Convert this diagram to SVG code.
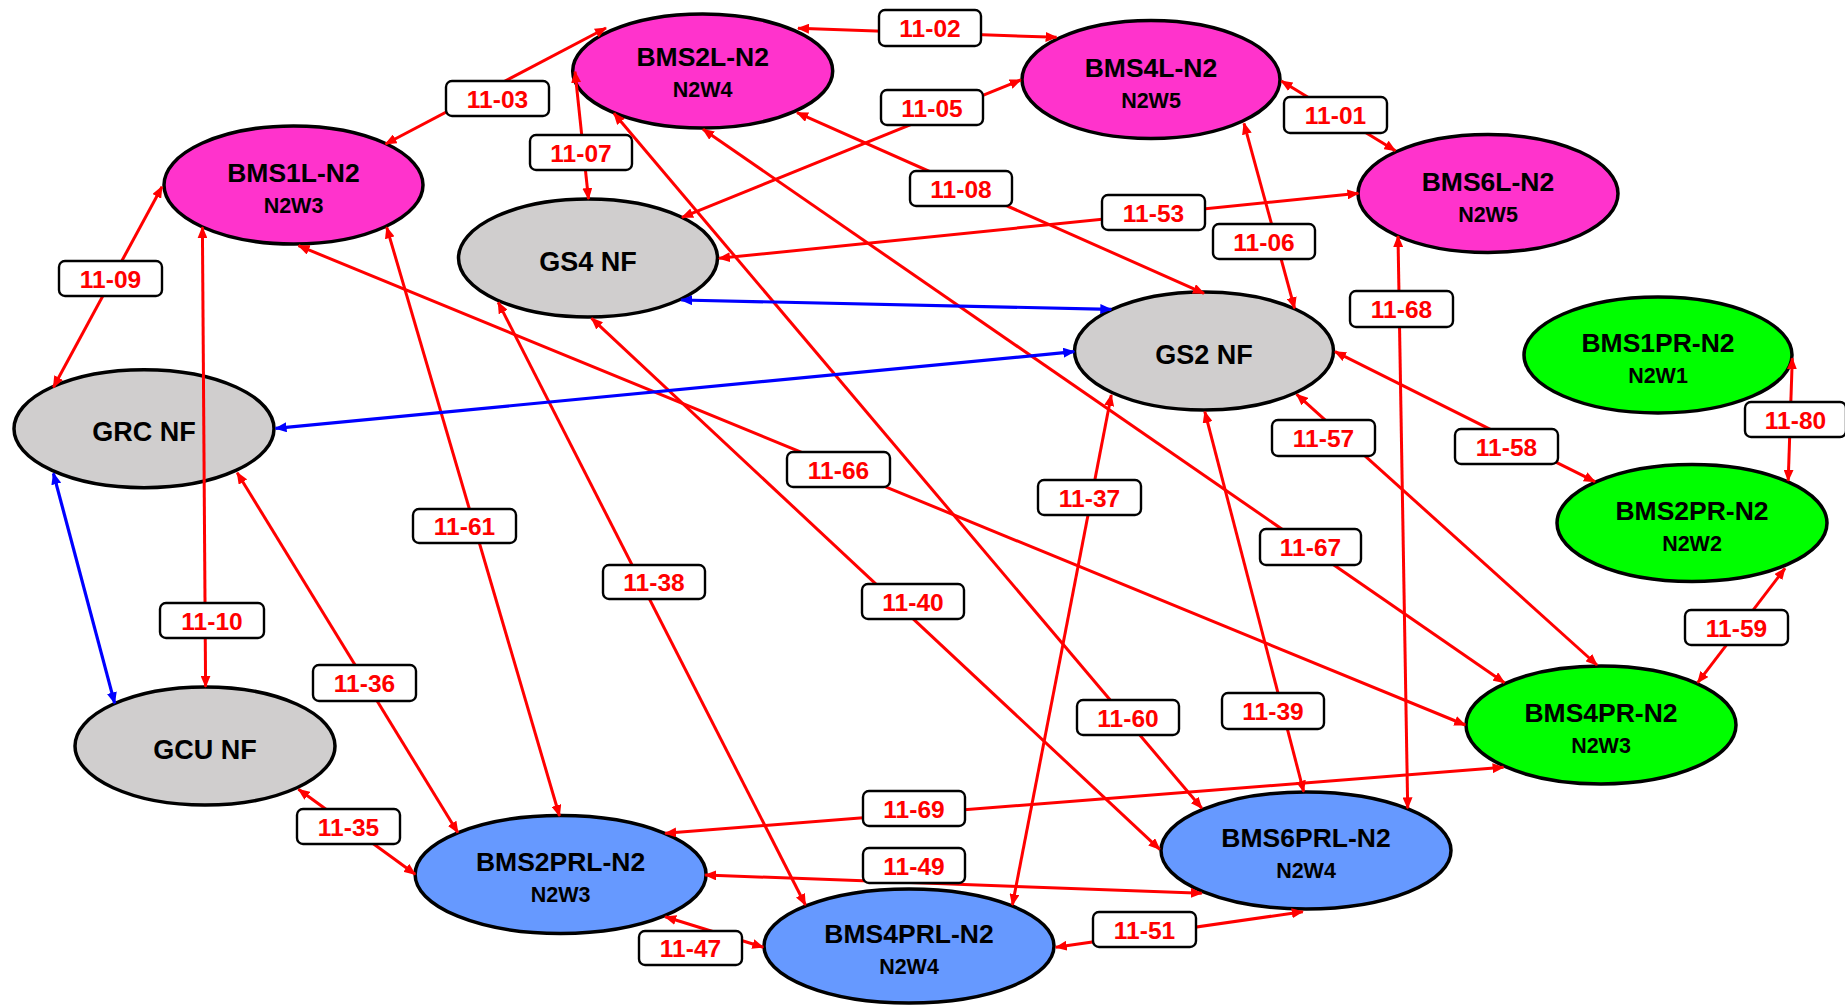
<svg xmlns="http://www.w3.org/2000/svg" width="1845" height="1005" viewBox="0 0 1845 1005">
<style>
.n{stroke:#000;stroke-width:3.5}
.mag{fill:#FF33CC}.gry{fill:#D0CECE}.grn{fill:#00FF00}.blu{fill:#6699FF}
.t1{font-family:"Liberation Sans",Arial,sans-serif;font-weight:bold;font-size:26.5px;fill:#000;text-anchor:middle}
.t2{font-family:"Liberation Sans",Arial,sans-serif;font-weight:bold;font-size:21.5px;fill:#000;text-anchor:middle}
.tn{font-family:"Liberation Sans",Arial,sans-serif;font-weight:bold;font-size:27px;fill:#000;text-anchor:middle}
.r{stroke:#FF0000;stroke-width:3;fill:none;marker-start:url(#ar);marker-end:url(#ar)}
.b{stroke:#0000FF;stroke-width:3.2;fill:none;marker-start:url(#ab);marker-end:url(#ab)}
.lb{fill:#fff;stroke:#000;stroke-width:2.4}
.lt{font-family:"Liberation Sans",Arial,sans-serif;font-weight:bold;font-size:24.5px;fill:#FF0000;text-anchor:middle}
</style>
<defs>
<marker id="ar" viewBox="0 0 12 10" refX="11" refY="5" markerWidth="12" markerHeight="10" markerUnits="userSpaceOnUse" orient="auto-start-reverse"><path d="M0,0 L12,5 L0,10 z" fill="#FF0000"/></marker>
<marker id="ab" viewBox="0 0 12 10" refX="11" refY="5" markerWidth="12" markerHeight="10" markerUnits="userSpaceOnUse" orient="auto-start-reverse"><path d="M0,0 L12,5 L0,10 z" fill="#0000FF"/></marker>
</defs>
<rect width="1845" height="1005" fill="#fff"/>
<g id="nodes">
<g id="BMS1L"><ellipse class="n mag" cx="293.5" cy="185" rx="129.5" ry="59"/><text class="t1" x="293.5" y="182">BMS1L-N2</text><text class="t2" x="293.5" y="213">N2W3</text></g>
<g id="BMS2L"><ellipse class="n mag" cx="702.7" cy="71" rx="130" ry="57"/><text class="t1" x="702.7" y="66">BMS2L-N2</text><text class="t2" x="702.7" y="97">N2W4</text></g>
<g id="BMS4L"><ellipse class="n mag" cx="1151" cy="79.5" rx="129" ry="59"/><text class="t1" x="1151" y="76.5">BMS4L-N2</text><text class="t2" x="1151" y="107.5">N2W5</text></g>
<g id="BMS6L"><ellipse class="n mag" cx="1488" cy="193.5" rx="130" ry="59"/><text class="t1" x="1488" y="190.5">BMS6L-N2</text><text class="t2" x="1488" y="221.5">N2W5</text></g>
<g id="GS4"><ellipse class="n gry" cx="588" cy="258" rx="129.5" ry="59"/><text class="tn" x="588" y="270.5">GS4 NF</text></g>
<g id="GS2"><ellipse class="n gry" cx="1204" cy="351" rx="129.5" ry="59"/><text class="tn" x="1204" y="363.5">GS2 NF</text></g>
<g id="GRC"><ellipse class="n gry" cx="144" cy="428.7" rx="130" ry="59"/><text class="tn" x="144" y="441">GRC NF</text></g>
<g id="GCU"><ellipse class="n gry" cx="205" cy="746" rx="130" ry="59"/><text class="tn" x="205" y="758.5">GCU NF</text></g>
<g id="BMS1PR"><ellipse class="n grn" cx="1658" cy="355" rx="134" ry="58"/><text class="t1" x="1658" y="352">BMS1PR-N2</text><text class="t2" x="1658" y="383">N2W1</text></g>
<g id="BMS2PR"><ellipse class="n grn" cx="1692" cy="523" rx="135" ry="58.5"/><text class="t1" x="1692" y="520">BMS2PR-N2</text><text class="t2" x="1692" y="551">N2W2</text></g>
<g id="BMS4PR"><ellipse class="n grn" cx="1601" cy="725" rx="135" ry="59"/><text class="t1" x="1601" y="722">BMS4PR-N2</text><text class="t2" x="1601" y="753">N2W3</text></g>
<g id="BMS2PRL"><ellipse class="n blu" cx="560.6" cy="874.5" rx="145.5" ry="59"/><text class="t1" x="560.6" y="870.5">BMS2PRL-N2</text><text class="t2" x="560.6" y="902">N2W3</text></g>
<g id="BMS4PRL"><ellipse class="n blu" cx="909" cy="946" rx="145" ry="57"/><text class="t1" x="909" y="943">BMS4PRL-N2</text><text class="t2" x="909" y="974">N2W4</text></g>
<g id="BMS6PRL"><ellipse class="n blu" cx="1306" cy="850.5" rx="145" ry="58.5"/><text class="t1" x="1306" y="847">BMS6PRL-N2</text><text class="t2" x="1306" y="878">N2W4</text></g>
</g>
<g id="connectors">
<line class="r" x1="385.5" y1="144" x2="606" y2="28"/>
<line class="r" x1="798" y1="28.3" x2="1056.6" y2="37.3"/>
<line class="r" x1="575" y1="71.7" x2="588.5" y2="199"/>
<line class="r" x1="1020.8" y1="80" x2="682" y2="217.3"/>
<line class="r" x1="797" y1="112.7" x2="1204" y2="293.3"/>
<line class="r" x1="719" y1="258.3" x2="1358.4" y2="193.3"/>
<line class="r" x1="1281.4" y1="81" x2="1395.4" y2="150.7"/>
<line class="r" x1="1244" y1="123.3" x2="1294.6" y2="308.3"/>
<line class="r" x1="1398" y1="236" x2="1407.7" y2="808.3"/>
<line class="r" x1="162" y1="186.7" x2="53.4" y2="387.3"/>
<line class="r" x1="202.4" y1="227.3" x2="205.6" y2="686.7"/>
<line class="r" x1="386.7" y1="227.3" x2="559.5" y2="816"/>
<line class="r" x1="298.5" y1="245.7" x2="1465.3" y2="725"/>
<line class="r" x1="498.2" y1="302.3" x2="805.4" y2="905"/>
<line class="r" x1="591.6" y1="318.3" x2="1159.7" y2="849.3"/>
<line class="r" x1="613.9" y1="113.3" x2="1201.8" y2="808.3"/>
<line class="r" x1="703" y1="129.3" x2="1504.4" y2="682.7"/>
<line class="r" x1="1296.7" y1="394.3" x2="1597" y2="665"/>
<line class="r" x1="1335" y1="351.7" x2="1595" y2="481.7"/>
<line class="r" x1="1792.3" y1="358.3" x2="1788.2" y2="480.7"/>
<line class="r" x1="1785" y1="568.3" x2="1697.7" y2="682.7"/>
<line class="r" x1="1111.3" y1="395" x2="1012.4" y2="905"/>
<line class="r" x1="1204.8" y1="411.7" x2="1303.7" y2="791.7"/>
<line class="r" x1="237.2" y1="472.7" x2="457.9" y2="832.7"/>
<line class="r" x1="298.5" y1="789.3" x2="415.2" y2="874.3"/>
<line class="r" x1="665.2" y1="833.3" x2="1503.6" y2="767.3"/>
<line class="r" x1="705.2" y1="875" x2="1201.8" y2="893.3"/>
<line class="r" x1="665.2" y1="916.7" x2="763.3" y2="947.3"/>
<line class="r" x1="1055.8" y1="947.3" x2="1302.8" y2="911.7"/>
<line class="b" x1="681.2" y1="300" x2="1111.3" y2="309.3"/>
<line class="b" x1="275.6" y1="428.3" x2="1074.3" y2="351.7"/>
<line class="b" x1="53.4" y1="473.3" x2="114.7" y2="703.3"/>
<g id="labels">
<rect class="lb" x="446" y="81" width="103" height="35" rx="6"/><text class="lt" x="497.5" y="107.5">11-03</text>
<rect class="lb" x="59" y="261" width="103" height="35" rx="6"/><text class="lt" x="110.5" y="287.5">11-09</text>
<rect class="lb" x="530" y="135" width="102" height="35" rx="6"/><text class="lt" x="581" y="161.5">11-07</text>
<rect class="lb" x="879" y="10" width="102" height="36" rx="6"/><text class="lt" x="930" y="37">11-02</text>
<rect class="lb" x="881" y="90" width="102" height="35" rx="6"/><text class="lt" x="932" y="116.5">11-05</text>
<rect class="lb" x="910" y="171" width="102" height="35" rx="6"/><text class="lt" x="961" y="197.5">11-08</text>
<rect class="lb" x="1102" y="195" width="103" height="35" rx="6"/><text class="lt" x="1153.5" y="221.5">11-53</text>
<rect class="lb" x="1284" y="97" width="103" height="36" rx="6"/><text class="lt" x="1335.5" y="124">11-01</text>
<rect class="lb" x="1213" y="224" width="102" height="35" rx="6"/><text class="lt" x="1264" y="250.5">11-06</text>
<rect class="lb" x="1350" y="291" width="103" height="36" rx="6"/><text class="lt" x="1401.5" y="318">11-68</text>
<rect class="lb" x="160" y="603" width="104" height="35" rx="6"/><text class="lt" x="212" y="629.5">11-10</text>
<rect class="lb" x="413" y="509" width="103" height="34" rx="6"/><text class="lt" x="464.5" y="535">11-61</text>
<rect class="lb" x="313" y="665" width="103" height="36" rx="6"/><text class="lt" x="364.5" y="692">11-36</text>
<rect class="lb" x="787" y="452" width="103" height="35" rx="6"/><text class="lt" x="838.5" y="478.5">11-66</text>
<rect class="lb" x="1038" y="480" width="103" height="35" rx="6"/><text class="lt" x="1089.5" y="506.5">11-37</text>
<rect class="lb" x="603" y="565" width="102" height="34" rx="6"/><text class="lt" x="654" y="591">11-38</text>
<rect class="lb" x="862" y="584" width="102" height="35" rx="6"/><text class="lt" x="913" y="610.5">11-40</text>
<rect class="lb" x="1272" y="420" width="103" height="36" rx="6"/><text class="lt" x="1323.5" y="447">11-57</text>
<rect class="lb" x="1455" y="429" width="103" height="35" rx="6"/><text class="lt" x="1506.5" y="455.5">11-58</text>
<rect class="lb" x="1260" y="529" width="101" height="36" rx="6"/><text class="lt" x="1310.5" y="556">11-67</text>
<rect class="lb" x="1685" y="610" width="103" height="35" rx="6"/><text class="lt" x="1736.5" y="636.5">11-59</text>
<rect class="lb" x="1745" y="402" width="101" height="35" rx="6"/><text class="lt" x="1795.5" y="428.5">11-80</text>
<rect class="lb" x="297" y="809" width="103" height="35" rx="6"/><text class="lt" x="348.5" y="835.5">11-35</text>
<rect class="lb" x="863" y="791" width="102" height="35" rx="6"/><text class="lt" x="914" y="817.5">11-69</text>
<rect class="lb" x="863" y="848" width="102" height="35" rx="6"/><text class="lt" x="914" y="874.5">11-49</text>
<rect class="lb" x="639" y="931" width="103" height="34" rx="6"/><text class="lt" x="690.5" y="957">11-47</text>
<rect class="lb" x="1093" y="912" width="103" height="35" rx="6"/><text class="lt" x="1144.5" y="938.5">11-51</text>
<rect class="lb" x="1077" y="700" width="102" height="35" rx="6"/><text class="lt" x="1128" y="726.5">11-60</text>
<rect class="lb" x="1222" y="693" width="102" height="36" rx="6"/><text class="lt" x="1273" y="720">11-39</text>
</g>
</g>
</svg>
